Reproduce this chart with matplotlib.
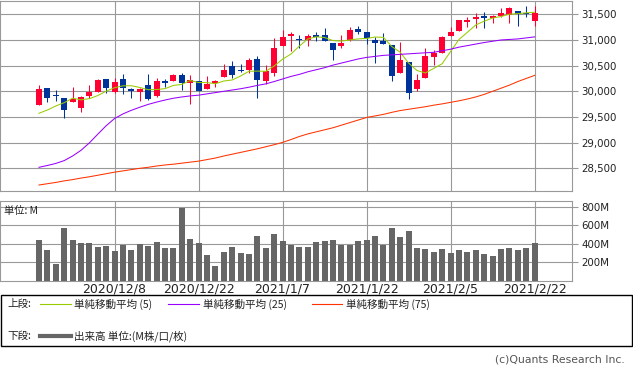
import numpy as np
import matplotlib
matplotlib.use("Agg")
import matplotlib.pyplot as plt
from matplotlib.patches import Rectangle
from matplotlib.lines import Line2D

plt.rcParams['font.family'] = ['DejaVu Sans', 'Noto Sans CJK JP']

# ---------------- data ----------------
opens = [29740, 30058, 29928, 29864, 29799, 29682, 29909, 29993, 30240, 29993,
         30240, 30052, 29993, 30123, 29909, 30208, 30208, 30312, 30156, 30195,
         30052, 30169, 30286, 30494, 30409, 30416, 30630, 30201, 30364, 30890,
         31071, 31013, 31006, 31097, 31097, 30942, 30890, 31000, 31214, 31156,
         31000, 30981, 30903, 30364, 30565, 30039, 30266, 30675, 30740, 31084,
         31175, 31351, 31416, 31468, 31429, 31474, 31494, 31565, 31526, 31377]
highs = [30123, 30065, 30026, 29870, 30078, 29909, 30123, 30230, 30245, 30253,
         30338, 30065, 30065, 30338, 30253, 30240, 30338, 30364, 30318, 30200,
         30299, 30227, 30532, 30591, 30526, 30643, 30688, 30513, 31045, 31195,
         31149, 31097, 31123, 31156, 31234, 30950, 31097, 31253, 31273, 31160,
         31052, 31136, 30910, 30961, 30570, 30338, 30838, 30805, 31078, 31247,
         31390, 31455, 31520, 31545, 31481, 31623, 31649, 31565, 31669, 31669]
lows = [29740, 29799, 29818, 29474, 29795, 29604, 29877, 29993, 29961, 29974,
        29948, 29877, 29818, 29831, 29896, 30078, 30208, 30026, 29760, 30013,
        30052, 30091, 30286, 30266, 30377, 30351, 29877, 30143, 30299, 30890,
        30786, 30838, 30890, 30987, 30987, 30610, 30851, 30987, 31123, 30916,
        30558, 30922, 30208, 30364, 29857, 30013, 30266, 30513, 30740, 31084,
        31175, 31247, 31234, 31234, 31338, 31455, 31338, 31273, 31455, 31279]
closes = [30045, 29877, 29918, 29643, 29844, 29890, 29987, 30221, 30071, 30182,
          30071, 30000, 30052, 29850, 30201, 30156, 30312, 30156, 30221, 30013,
          30143, 30208, 30416, 30325, 30396, 30610, 30221, 30396, 30844, 31058,
          31110, 31000, 31084, 31058, 30987, 30812, 30948, 31195, 31162, 31032,
          30948, 30922, 30299, 30610, 29974, 30221, 30688, 30740, 31065, 31162,
          31390, 31390, 31455, 31435, 31468, 31532, 31623, 31506, 31513, 31520]
# first four 5-day averages (need earlier closes)
sma5_head = [29572, 29636, 29714, 29778]
sma25 = [28520, 28555, 28595, 28650, 28740, 28850, 28995, 29165, 29330, 29470,
         29560, 29630, 29690, 29745, 29790, 29830, 29865, 29890, 29910, 29925,
         29950, 29975, 30000, 30025, 30050, 30080, 30115, 30145, 30190, 30240,
         30290, 30330, 30380, 30420, 30460, 30510, 30550, 30590, 30630, 30660,
         30680, 30700, 30710, 30720, 30730, 30740, 30750, 30760, 30790, 30820,
         30860, 30890, 30920, 30950, 30975, 31000, 31010, 31020, 31040, 31060]
sma75 = [28175, 28200, 28225, 28255, 28280, 28310, 28335, 28365, 28395, 28425,
         28450, 28475, 28500, 28520, 28545, 28565, 28580, 28600, 28620, 28640,
         28670, 28700, 28740, 28775, 28810, 28845, 28880, 28920, 28960, 29005,
         29060, 29120, 29170, 29210, 29250, 29290, 29340, 29390, 29440, 29490,
         29520, 29550, 29590, 29625, 29650, 29675, 29700, 29730, 29755, 29785,
         29815, 29850, 29890, 29940, 30000, 30060, 30120, 30190, 30250, 30310]
volume = [439, 333, 186, 565, 439, 404, 404, 365, 375, 323,
          386, 333, 396, 375, 418, 354, 354, 789, 449, 404,
          281, 154, 312, 365, 302, 291, 481, 354, 502, 428,
          386, 365, 365, 418, 428, 439, 386, 386, 428, 439,
          481, 386, 565, 470, 533, 354, 344, 312, 344, 302,
          333, 312, 333, 291, 270, 344, 354, 333, 354, 404]
date_labels = ['2020/12/8', '2020/12/22', '2021/1/7', '2021/1/22', '2021/2/5', '2021/2/22']
date_index = [9, 19, 29, 39, 49, 59]
price_ticks = [28500, 29000, 29500, 30000, 30500, 31000, 31500]
vol_ticks = [200, 400, 600, 800]

# ---------------- derived ----------------
n = len(closes)
x = np.arange(n)
o = np.array(opens, float); c = np.array(closes, float)
h = np.array(highs, float); l = np.array(lows, float)
sma5 = np.convolve(c, np.ones(5) / 5, mode='valid')
sma5 = np.concatenate([sma5_head, sma5])

UP = '#FF0033'
DOWN = '#003399'
GRID = '#999999'
cols = [UP if cc >= oo else DOWN for oo, cc in zip(o, c)]

W, H = 633, 372
fig = plt.figure(figsize=(W / 100, H / 100), dpi=100)

def fx(px):
    return px / W

def fy(py):
    return 1 - py / H

# ---------------- price panel ----------------
ax = fig.add_axes([0, fy(190.7), fx(571.7), (190.7 - 1) / H])
ax.set_xlim(-4.64, 63.42)
ax.set_ylim(28064, 31759)
ax.set_yticks(price_ticks)
ax.set_yticklabels([f'{v:,}' for v in price_ticks])
ax.set_xticks(date_index)
ax.set_xticklabels([])
ax.grid(True, color=GRID, lw=0.8, zorder=0)
ax.yaxis.tick_right()
ax.tick_params(axis='y', length=4, color=GRID, width=0.8, labelsize=7.4, pad=3, labelcolor='#222222')
ax.tick_params(axis='x', length=0)
for s in ax.spines.values():
    s.set_color(GRID)
    s.set_linewidth(0.8)

ax.vlines(x, l, h, colors=cols, lw=0.75, zorder=2)
body_bottom = np.minimum(o, c)
body_h = np.maximum(np.abs(c - o), 14)
ax.bar(x, body_h, bottom=body_bottom, width=0.72, color=cols, lw=0, zorder=3)

ax.plot(x, sma5, color='#99CC00', lw=0.75, zorder=4)
ax.plot(x, sma25, color='#9900FF', lw=0.75, zorder=4)
ax.plot(x, sma75, color='#FF3300', lw=0.75, zorder=4)

# ---------------- volume panel ----------------
av = fig.add_axes([0, fy(280.7), fx(571.7), (280.7 - 201) / H])
av.set_xlim(-4.64, 63.42)
av.set_ylim(0, 862)
av.bar(x, volume, width=0.72, color='#666666', lw=0, zorder=3)
av.set_yticks(vol_ticks)
av.set_yticklabels([f'{v}M' for v in vol_ticks])
av.set_xticks(date_index)
av.set_xticklabels(date_labels)
av.grid(True, color=GRID, lw=0.8, zorder=0)
av.yaxis.tick_right()
av.tick_params(axis='y', length=4, color=GRID, width=0.8, labelsize=7.4, pad=3, labelcolor='#222222')
av.tick_params(axis='x', length=0, labelsize=9.0, pad=1.0, labelcolor='#222222')
for s in av.spines.values():
    s.set_color(GRID)
    s.set_linewidth(0.8)

cjk = ['Noto Sans CJK JP', 'DejaVu Sans']
fig.text(fx(4), fy(211), '単位: M', fontsize=7.4, family=cjk, va='center', ha='left', color='#222222')

# ---------------- legend box ----------------
fig.add_artist(Rectangle((fx(0.5), fy(346)), fx(631.5), (346 - 295) / H,
                         transform=fig.transFigure, fill=False, ec='black', lw=1.0))
fig.text(fx(7), fy(304), '上段:', fontsize=7.6, family=cjk, va='center', ha='left', color='#222222')
fig.text(fx(7), fy(336), '下段:', fontsize=7.6, family=cjk, va='center', ha='left', color='#222222')
leg_items = [(40, 71, 74, '#99CC00', '単純移動平均 (5)'),
             (168, 199, 203, '#9900FF', '単純移動平均 (25)'),
             (312, 342, 346, '#FF3300', '単純移動平均 (75)')]
for x0, x1, tx, colr, lab in leg_items:
    fig.add_artist(Line2D([fx(x0), fx(x1)], [fy(304), fy(304)], transform=fig.transFigure,
                          color=colr, lw=0.8))
    fig.text(fx(tx), fy(304), lab, fontsize=7.6, family=cjk, va='center', ha='left', color='#222222')
fig.add_artist(Line2D([fx(40), fx(71)], [fy(336), fy(336)], transform=fig.transFigure,
                      color='#666666', lw=3.0))
fig.text(fx(74), fy(336), '出来高 単位:(M株/口/枚)', fontsize=7.6, family=cjk, va='center', ha='left',
         color='#222222')

fig.text(fx(625), fy(359), '(c)Quants Research Inc.', fontsize=7.8, va='center', ha='right',
         color='#555555')

fig.savefig('out.png', dpi=100)
